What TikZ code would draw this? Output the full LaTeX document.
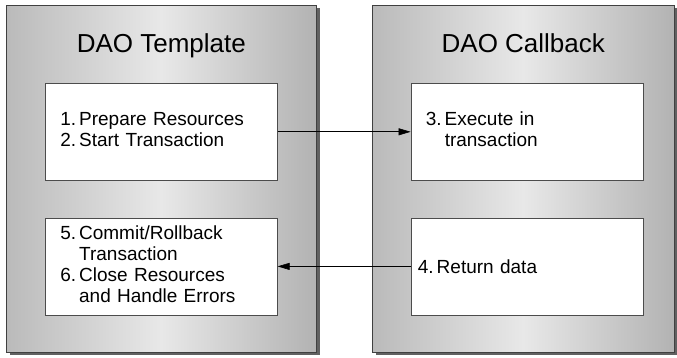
\documentclass[tikz,border=0pt]{standalone}
\usepackage{fontspec}
\setmainfont{Liberation Sans}
\usetikzlibrary{arrows.meta,positioning,shadows}

\tikzset{
  panel/.style={draw=black!75, line width=0.6pt, anchor=north west, inner sep=0pt,
    minimum width=310pt, minimum height=347pt,
    left color=black!27, right color=black!30, middle color=black!9,
    general shadow={fill=black!62, shadow xshift=4pt, shadow yshift=-3pt}},
  paneltitle/.style={font=\fontsize{26}{31}\selectfont, anchor=base},
  stepbox/.style={draw=black!70, fill=white, line width=0.6pt, anchor=north west,
    minimum width=232pt, minimum height=97pt, text width=202pt, inner xsep=15pt,
    align=left, font=\fontsize{19}{21}\selectfont},
  flow/.style={-{Triangle[length=12pt,width=7pt]}, line width=0.6pt}
}

\begin{document}
\begin{tikzpicture}[x=1pt,y=-1pt]
    \useasboundingbox (0,0) rectangle (677,358);

    % Draw the two panels
    \node[panel] (tpl) at (6,5) {};
    \node[panel, minimum width=302pt] (cbk) at (372,5) {};

    % Panel titles
    \node[paneltitle] (tpltitle) at ([yshift=-48pt]tpl.north) {DAO Template};
    \node[paneltitle] (cbktitle) at ([yshift=-48pt]cbk.north) {DAO Callback};

    % Steps on the template side
    \node[stepbox] (prep) at (45,83)
      {\begin{tabular}{@{}l@{\hspace{3pt}}l@{}}1. & Prepare Resources\\ 2. & Start Transaction\end{tabular}};
    \node[stepbox, below=37pt of prep.south west, anchor=north west] (close)
      {\begin{tabular}{@{}l@{\hspace{3pt}}l@{}}5. & Commit/Rollback\\ & Transaction\\
       6. & Close Resources\\ & and Handle Errors\end{tabular}};

    % Steps on the callback side
    \node[stepbox, right=133pt of prep] (exec)
      {\begin{tabular}{@{}l@{\hspace{3pt}}l@{}}3. & Execute in\\ & transaction\end{tabular}};
    \node[stepbox, right=133pt of close, inner xsep=7pt, text width=218pt] (ret)
      {4.\hspace{3pt}Return data};

    % Draw flow arrows
    \draw[flow] (prep) -- (exec);
    \draw[flow] (ret) -- (close);
\end{tikzpicture}
\end{document}
